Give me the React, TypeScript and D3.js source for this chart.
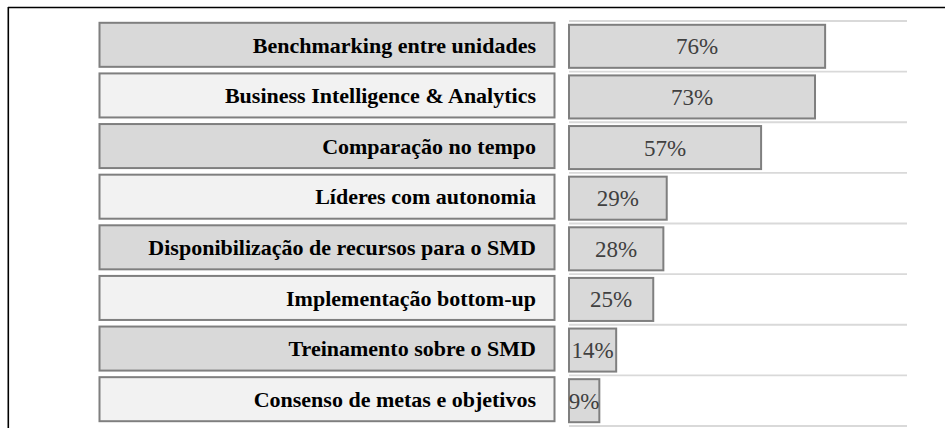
import React from "react";
import * as d3 from "d3";

const categories = [
  "Benchmarking entre unidades",
  "Business Intelligence & Analytics",
  "Comparação no tempo",
  "Líderes com autonomia",
  "Disponibilização de recursos para o SMD",
  "Implementação bottom-up",
  "Treinamento sobre o SMD",
  "Consenso de metas e objetivos",
];
const values = [76, 73, 57, 29, 28, 25, 14, 9];
const valueLabels = ["76%", "73%", "57%", "29%", "28%", "25%", "14%", "9%"];

const W = 945;
const H = 428;

export default function App() {
  const y = d3
    .scaleBand<string>()
    .domain(categories)
    .range([21, 426])
    .paddingInner(0.15)
    .paddingOuter(0.075);
  const x = d3.scaleLinear().domain([0, 100]).range([569, 906]);
  const gridYs = categories.map((c) => (y(c) as number) - y.step() * 0.075).concat([426]);
  const font = "'Liberation Serif', 'Times New Roman', serif";

  return (
    <svg
      width={W}
      height={H}
      style={{ position: "absolute", left: 0, top: 0, background: "#fff" }}
    >
      <line x1={8} x2={W} y1={7.5} y2={7.5} stroke="#000" strokeWidth={1.6} />
      <line x1={8.3} x2={8.3} y1={7} y2={H} stroke="#000" strokeWidth={1.6} />
      {gridYs.map((gy, i) => (
        <line key={"g" + i} x1={569} x2={907} y1={gy} y2={gy} stroke="#d9d9d9" strokeWidth={1.8} />
      ))}
      {categories.map((c, i) => {
        const by = (y(c) as number) - 2;
        const bh = y.bandwidth() + 1;
        return (
          <g key={"l" + i}>
            <rect
              x={99.5}
              y={by}
              width={455}
              height={bh}
              fill={i % 2 === 0 ? "#d9d9d9" : "#f2f2f2"}
              stroke="#7f7f7f"
              strokeWidth={2}
            />
            <text
              x={536}
              y={by + bh / 2}
              dy="0.35em"
              textAnchor="end"
              fontFamily={font}
              fontWeight="bold"
              fontSize={22}
              fill="#000"
            >
              {c}
            </text>
          </g>
        );
      })}
      {categories.map((c, i) => {
        const by = y(c) as number;
        const x0 = x(0);
        const x1 = x(values[i]);
        return (
          <g key={"b" + i}>
            <rect
              x={x0}
              y={by}
              width={x1 - x0}
              height={y.bandwidth()}
              fill="#d9d9d9"
              stroke="#7f7f7f"
              strokeWidth={2}
            />
            <text
              x={(x0 + x1) / 2}
              y={by + y.bandwidth() / 2}
              dy="0.35em"
              textAnchor="middle"
              fontFamily={font}
              fontSize={23}
              fill="#404040"
            >
              {valueLabels[i]}
            </text>
          </g>
        );
      })}
    </svg>
  );
}
